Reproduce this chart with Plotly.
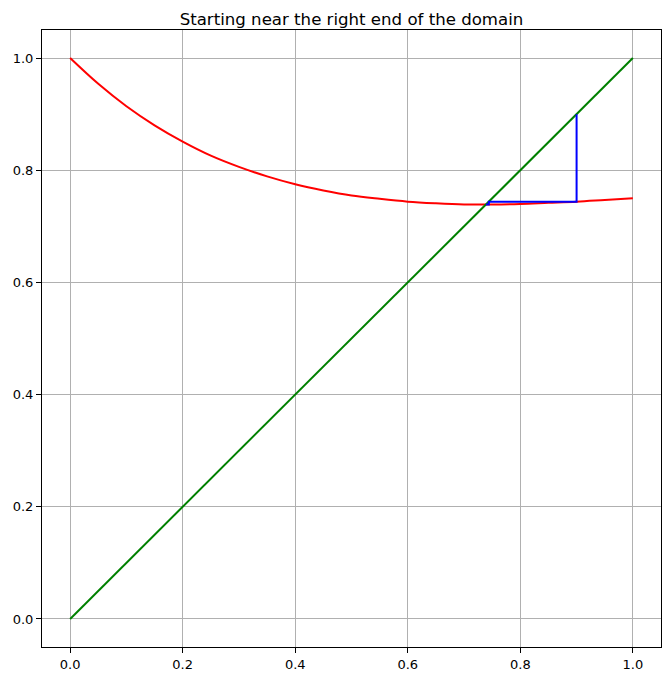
import plotly.graph_objects as go

# Red curve (map)
curve_x = [0.00, 0.05, 0.10, 0.15, 0.20, 0.25, 0.30, 0.35, 0.40, 0.45, 0.50,
           0.55, 0.60, 0.65, 0.70, 0.75, 0.80, 0.85, 0.90, 0.95, 1.00]
curve_y = [1.000, 0.954, 0.914, 0.880, 0.851, 0.826, 0.806, 0.789, 0.775, 0.764, 0.755,
           0.749, 0.744, 0.741, 0.739, 0.739, 0.740, 0.742, 0.744, 0.747, 0.750]

# Green diagonal y = x
diag_x = [0.0, 1.0]
diag_y = [0.0, 1.0]

# Blue cobweb path
cob_x = [0.900, 0.900, 0.744, 0.744, 0.739, 0.739]
cob_y = [0.900, 0.744, 0.744, 0.739, 0.739, 0.739]

tick_vals = [0.0, 0.2, 0.4, 0.6, 0.8, 1.0]
tick_text = ["0.0", "0.2", "0.4", "0.6", "0.8", "1.0"]

fig = go.Figure()
fig.add_trace(go.Scatter(x=curve_x, y=curve_y, mode="lines",
                         line=dict(color="#ff0000", width=2, shape="spline"),
                         hoverinfo="skip", showlegend=False))
fig.add_trace(go.Scatter(x=diag_x, y=diag_y, mode="lines",
                         line=dict(color="#008000", width=2),
                         hoverinfo="skip", showlegend=False))
fig.add_trace(go.Scatter(x=cob_x, y=cob_y, mode="lines",
                         line=dict(color="#0000ff", width=2),
                         hoverinfo="skip", showlegend=False))

axis_common = dict(
    tickvals=tick_vals, ticktext=tick_text,
    showgrid=True, gridcolor="#b0b0b0", gridwidth=1,
    zeroline=False,
    showline=True, linecolor="black", linewidth=1, mirror=True,
    ticks="outside", ticklen=5, tickwidth=1, tickcolor="black",
    tickfont=dict(family="DejaVu Sans", size=13, color="black"),
    automargin=False,
)

fig.update_layout(
    width=663, height=672,
    margin=dict(l=34, r=10, t=22, b=33),
    paper_bgcolor="white", plot_bgcolor="white",
    title=dict(text="Starting near the right end of the domain",
               x=0.5, xref="paper", xanchor="center",
               y=1 - 11 / 672, yref="container", yanchor="middle",
               font=dict(family="DejaVu Sans", size=16.6, color="black")),
    xaxis=dict(range=[-0.05, 1.05], **axis_common),
    yaxis=dict(range=[-0.05, 1.05], **axis_common),
)

fig.write_html("out.html")
